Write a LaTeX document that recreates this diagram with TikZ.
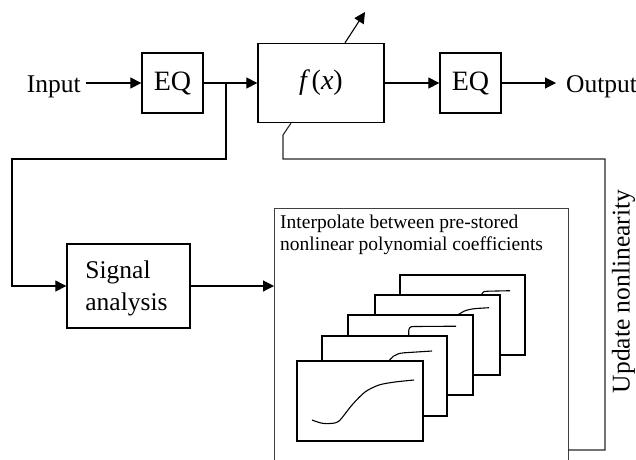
\documentclass[tikz,border=0pt]{standalone}
\usepackage{fontspec}
\setmainfont{Liberation Serif}
\usetikzlibrary{arrows.meta}
\begin{document}
\begin{tikzpicture}[x=1pt,y=-1pt,
  blk/.style={draw, line width=1.3pt, inner sep=0pt, font=\fontsize{28}{30}\selectfont},
  lbl/.style={inner sep=0pt, font=\fontsize{25.5}{28}\selectfont},
  conn/.style={line width=1.1pt},
  arr/.style={conn, -{Triangle[length=11pt,width=11pt]}},
  fb/.style={line width=1.1pt, draw=black!85},
  frm/.style={draw, fill=white, line width=1.4pt},
  crv/.style={line width=1.1pt}]
\useasboundingbox (0,0) rectangle (636,459);

% top chain
\node[lbl, anchor=base east] (inp) at (81,92) {Input};
\node[blk, minimum width=61pt, minimum height=60pt] (eq1) at (172.5,83) {EQ};
\node[blk, minimum width=126pt, minimum height=79pt] (fx) at (321,83) {{\itshape f\,}({\itshape x})};
\node[blk, minimum width=61pt, minimum height=60pt] (eq2) at (470.5,83) {EQ};
\node[lbl, anchor=base west] (out) at (566,92) {Output};

\draw[arr] ([xshift=5pt]inp.east |- eq1.west) -- (eq1.west);
\draw[arr] (eq1.east) -- (fx.west);
\draw[arr] (fx.east) -- (eq2.west);
\draw[arr] (eq2.east) -- ([xshift=-10pt]out.west |- eq2.east);

% adjustment arrow
\coordinate (adj) at (365,12);
\draw[arr] ([xshift=24pt]fx.north) -- (adj);

% signal analysis branch
\coordinate (j) at (226,83);
\coordinate (c1) at (226,159);
\coordinate (c2) at (12,159);
\node[draw, line width=1.3pt, minimum width=123pt, minimum height=84pt, inner sep=0pt] (sig) at (128.5,286) {};
\node[font=\fontsize{25.5}{32}\selectfont, align=left, inner sep=0pt] (sigtxt) at (126.5,288) {Signal\\analysis};
\draw[arr] (j) -- (c1) -- (c2) |- (sig.west);

% interpolation box
\coordinate (inw) at (274,208);
\coordinate (ine) at (568,208);
\draw[line width=1pt, draw=black!75] (274,462) -- (inw) -- (ine) -- (568,462);
\node[anchor=north west, inner sep=0pt, align=left, font=\fontsize{19.5}{22}\selectfont] (intxt) at (280,215)
  {Interpolate between pre-stored\\nonlinear polynomial coefficients};
\draw[arr] (sig.east) -- (sig.east -| inw);

% stacked frames (back to front)
\draw[frm] (400,275) rectangle (525,355);
\draw[crv] (481.3,297) -- (481.5,294.5) .. controls (482,292) and (484,291.3) .. (488,291.2) -- (510,290.7);
\draw[frm] (375,295) rectangle (500,375);
\draw[crv] (455,318) .. controls (460,312) and (466,309.5) .. (476,308.5) -- (489,307.7);
\draw[frm] (348,315) rectangle (473,395);
\draw[crv] (408.7,338) -- (408.7,331) .. controls (409,327.5) and (410,326.5) .. (414,326.5) -- (456,326.2);
\draw[frm] (322,336) rectangle (447,416);
\draw[crv] (387,364) .. controls (391,357) and (395,353.5) .. (404,352.8) -- (432,351);
\draw[frm] (297,361) rectangle (423,441);
\draw[crv] plot[smooth] coordinates {(312,420) (321,423) (330,423.5) (339,421) (352,405) (365,392) (379,385) (395,382) (414,380)};

% feedback
\coordinate (f1) at (283,135);
\coordinate (f2) at (283,159);
\coordinate (f3) at (605,159);
\coordinate (f4) at (605,450);
\coordinate (f5) at (568,450);
\draw[fb] ([xshift=-30pt]fx.south) -- (f1) -- (f2) -- (f3) -- (f4) -- (f5);
\node[lbl, rotate=90] (upd) at (623.5,291.5) {Update nonlinearity};
\end{tikzpicture}
\end{document}
